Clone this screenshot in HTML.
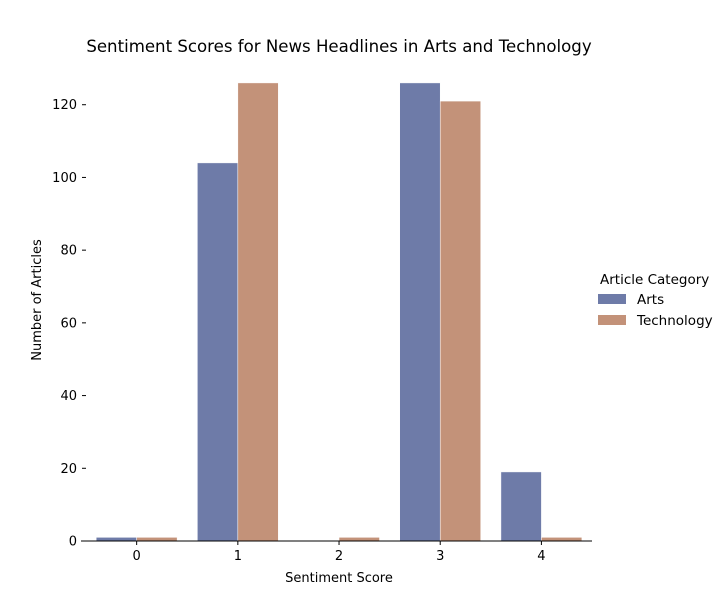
<!DOCTYPE html>
<html><head><meta charset="utf-8"><style>
body{margin:0;background:#fff;font-family:"Liberation Sans","DejaVu Sans",sans-serif;}
svg text{font-family:"DejaVu Sans","Liberation Sans",sans-serif;}
</style></head><body>
<svg id="chart" width="727" height="600" xmlns="http://www.w3.org/2000/svg">
<text x="339" y="52" text-anchor="middle" font-size="16.6">Sentiment Scores for News Headlines in Arts and Technology</text>
<g id="bars"></g><g id="axes"></g>
<text x="339" y="582" text-anchor="middle" font-size="13">Sentiment Score</text>
<text transform="translate(41,300) rotate(-90)" text-anchor="middle" font-size="13">Number of Articles</text>
<g>
<text x="600" y="284" font-size="13.5">Article Category</text>
<rect x="598" y="294" width="28" height="10" fill="#6e7ba8"/>
<text x="637" y="304" font-size="13.5">Arts</text>
<rect x="598" y="315" width="28" height="10" fill="#c39279"/>
<text x="637" y="325" font-size="13.5">Technology</text>
</g>
</svg>
<script>
const categories=[0,1,2,3,4];
const arts=[1,104,0,126,19];
const technology=[1,126,1,121,1];
const yTicks=[0,20,40,60,80,100,120];
const NS="http://www.w3.org/2000/svg";
const x0=81,x1=592,xmin=-0.55,xmax=4.5,yb=541,yt=60,ymax=132.3;
const xs=v=>x0+(v-xmin)/(xmax-xmin)*(x1-x0);
const ys=v=>yb-v/ymax*(yb-yt);
const bw=(xs(1)-xs(0))*0.4;
const bars=document.getElementById('bars'),axes=document.getElementById('axes');
function mk(t,a,p){const e=document.createElementNS(NS,t);for(const k in a)e.setAttribute(k,a[k]);p.appendChild(e);return e;}
categories.forEach((c,i)=>{
 [[arts,'#6e7ba8','arts',-1],[technology,'#c39279','technology',0]].forEach(([s,col,n,o])=>{
  const r=mk('rect',{x:xs(c)+o*bw,y:ys(s[i]),width:bw,height:yb-ys(s[i]),fill:col,stroke:'#fff','stroke-width':0.5},bars);
  
  
 });
 const l=mk('line',{x1:xs(c),x2:xs(c),y1:yb,y2:yb+4,stroke:'#000'},axes);
 
 
 const t=mk('text',{x:xs(c),y:yb+19,'text-anchor':'middle','font-size':13},axes);t.textContent=c;
 
 
});
yTicks.forEach(v=>{
 const l=mk('line',{x1:82,x2:86,y1:ys(v),y2:ys(v),stroke:'#000'},axes);
 
 
 const t=mk('text',{x:77,y:ys(v)+4.5,'text-anchor':'end','font-size':13},axes);t.textContent=v;
 
 
});
const sp=mk('line',{x1:x0,x2:x1,y1:yb,y2:yb,stroke:'#000','stroke-width':1},axes);


</script>
</body></html>
